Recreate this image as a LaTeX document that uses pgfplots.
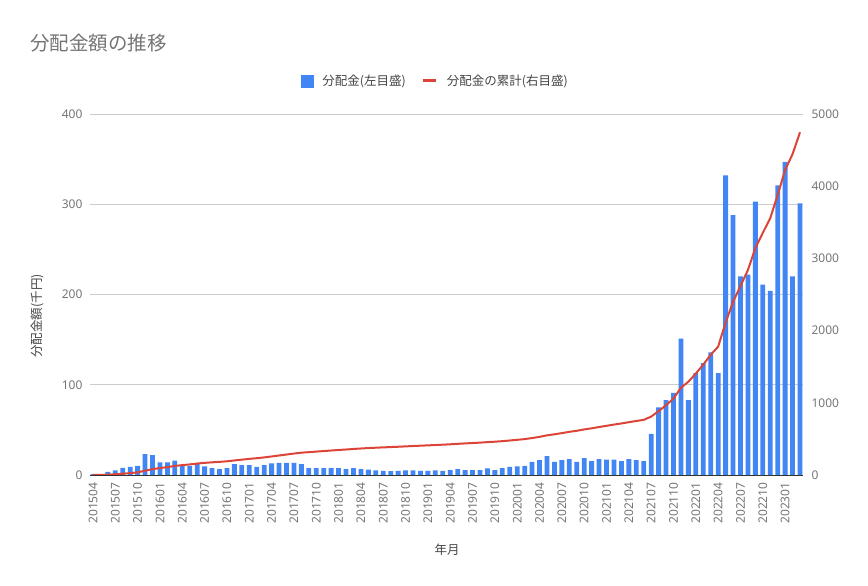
\documentclass[border=0pt]{standalone}
\usepackage{pgfplots}
\usepackage{pgfplotstable}
\pgfplotsset{compat=1.18}
\usepackage{fontspec}
\setmainfont{Noto Sans}
\newfontfamily\cjk{Noto Sans CJK JP}
\definecolor{gbar}{HTML}{4285F4}
\definecolor{gline}{HTML}{DB4437}
\definecolor{gtext}{HTML}{757575}
\definecolor{glab}{HTML}{444444}
\definecolor{ggrid}{HTML}{CCCCCC}
\definecolor{gaxis}{HTML}{333333}

\pgfplotstableread{
x v c
0 1 1
1 0 1
2 3.5 4.5
3 5 9.5
4 8 17.5
5 9 26.5
6 10 36.5
7 23 59.5
8 22 81.5
9 14 95.5
10 14 109.5
11 16 125.5
12 11 136.5
13 10 146.5
14 12 158.5
15 9.5 168
16 7.5 175.5
17 6.5 182
18 7.5 189.5
19 12 201.5
20 11 212.5
21 11 223.5
22 9 232.5
23 11 243.5
24 13 256.5
25 13.5 270
26 13.5 283.5
27 13.5 297
28 12 309
29 7.5 316.5
30 7.5 324
31 7.5 331.5
32 7.5 339
33 7.5 346.5
34 6.5 353
35 7.5 360.5
36 6.5 367
37 6 373
38 5 378
39 4.5 382.5
40 4.3 386.8
41 4.5 391.3
42 5 396.3
43 5 401.3
44 4.5 405.8
45 4.5 410.3
46 5 415.3
47 4.5 419.8
48 5.5 425.3
49 6.5 431.8
50 5.5 437.3
51 5.5 442.8
52 5.5 448.3
53 7.3 455.6
54 5.4 461
55 7.7 468.7
56 9 477.7
57 9.5 487.2
58 10 497.2
59 14.5 511.7
60 16.5 528.2
61 21 549.2
62 14.5 563.7
63 16.5 580.2
64 17.7 597.9
65 14.5 612.4
66 18.8 631.2
67 15.5 646.7
68 17.7 664.4
69 17 681.4
70 17 698.4
71 15.5 713.9
72 17.7 731.6
73 16.5 748.1
74 15.5 763.6
75 45.5 809.1
76 75 884.1
77 83 967.1
78 91 1058.1
79 151 1209.1
80 83 1292.1
81 113 1405.1
82 124 1529.1
83 136 1665.1
84 113 1778.1
85 332 2110.1
86 288 2398.1
87 220 2618.1
88 222 2840.1
89 303 3143.1
90 211 3354.1
91 204 3558.1
92 321 3879.1
93 347 4226.1
94 220 4446.1
95 301 4747.1
}\data

\begin{document}
\begin{tikzpicture}
\path[use as bounding box] (0pt,0pt) rectangle (868pt,586pt);
\begin{axis}[
  at={(90pt,111pt)}, anchor=south west,
  scale only axis, width=713pt, height=361pt,
  xmin=-0.4, xmax=95.4, ymin=0, ymax=400,
  axis x line*=bottom, axis y line*=left,
  x axis line style={gaxis, line width=0.9pt, -},
  y axis line style={draw=none},
  major tick length=0pt,
  ytick={0,100,...,400},
  ymajorgrids, grid style={ggrid, line width=0.8pt},
  xtick={0,3,...,93},
  xticklabels={201504,201507,201510,201601,201604,201607,201610,201701,201704,201707,201710,201801,201804,201807,201810,201901,201904,201907,201910,202001,202004,202007,202010,202101,202104,202107,202110,202201,202204,202207,202210,202301},
  xticklabel style={font=\fontsize{12}{14}\selectfont, text=gtext, yshift=-4pt, rotate=90, anchor=east},
  yticklabel style={font=\fontsize{12}{14}\selectfont, text=gtext, xshift=-4pt},
  /pgf/number format/assume math mode=true,
  /pgf/number format/1000 sep={},
  ybar, bar width=4.8pt,
]
\addplot[fill=gbar, draw=none] table[x=x,y=v]{\data};
\end{axis}
\begin{axis}[
  at={(90pt,111pt)}, anchor=south west,
  scale only axis, width=713pt, height=361pt,
  xmin=-0.4, xmax=95.4, ymin=0, ymax=5000,
  axis x line=none, axis y line*=right,
  y axis line style={draw=none},
  major tick length=0pt,
  ytick={0,1000,...,5000},
  yticklabel style={font=\fontsize{12}{14}\selectfont, text=gtext, xshift=5pt},
  /pgf/number format/assume math mode=true,
  /pgf/number format/1000 sep={},
  legend columns=2,
  legend cell align=left,
  legend style={draw=none, fill=none, at={(0.483,1.0914)}, anchor=center,
    font=\cjk\fontsize{12.5}{14}\selectfont, text=glab,
    nodes={inner sep=0pt},
    /tikz/every odd column/.append style={column sep=9pt},
    /tikz/every even column/.append style={column sep=16pt}},
]
\addlegendimage{legend image code/.code={\fill[gbar] (0pt,-6pt) rectangle (12pt,6pt);}}
\addlegendentry{分配金(左目盛)}
\addplot[gline, line width=2pt, legend image code/.code={\draw[gline, line width=3pt] (0pt,0pt) -- (13pt,0pt);}] table[x=x,y=c]{\data};
\addlegendentry{分配金の累計(右目盛)}
\end{axis}
\node[anchor=west, text=gtext, font=\cjk\fontsize{19.5}{22}\selectfont, inner sep=0pt] at (30pt,543pt) {分配金額の推移};
\node[rotate=90, text=glab, font=\cjk\fontsize{12.5}{14}\selectfont, inner sep=0pt] at (37pt,270pt) {分配金額(千円)};
\node[text=glab, font=\cjk\fontsize{12.5}{14}\selectfont, inner sep=0pt] at (447pt,36pt) {年月};
\end{tikzpicture}
\end{document}
